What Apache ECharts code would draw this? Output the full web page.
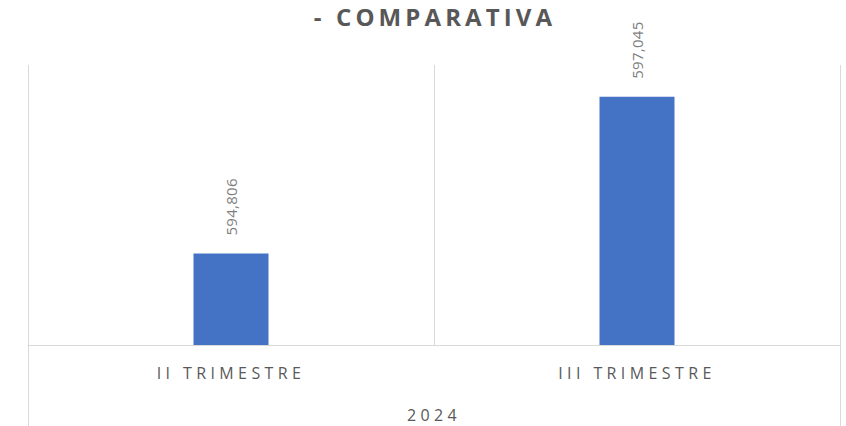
<!DOCTYPE html>
<html>
<head>
<meta charset="utf-8">
<script src="https://cdn.jsdelivr.net/npm/echarts@6/dist/echarts.min.js"></script>
<style>
html,body{margin:0;padding:0;background:#fff}
#c{width:846px;height:426px}
#c svg text{letter-spacing:4.4px}
#c svg text[fill="#7f7f7f"], #c svg text[fill="rgb(127,127,127)"]{letter-spacing:0.3px}
#c svg text[fill="#585858"], #c svg text[fill="rgb(88,88,88)"]{letter-spacing:4.1px}
</style>
</head>
<body>
<div id="c"></div>
<script>
const titleText = '- COMPARATIVA';
const categories = ['II TRIMESTRE', 'III TRIMESTRE'];
const groupLabels = ['2024'];
const values = [594806, 597045];
const yMin = 593500;
const yMax = 597500;

const chart = echarts.init(document.getElementById('c'), null, {renderer: 'svg'});
const FONT = '"Open Sans", "Liberation Sans", sans-serif';
chart.setOption({
  animation: false,
  backgroundColor: '#ffffff',
  title: {
    text: titleText,
    left: 435,
    textAlign: 'center',
    top: 2,
    padding: 0,
    textStyle: {fontFamily: FONT, fontSize: 24, lineHeight: 28, fontWeight: 'bold', color: '#585858'}
  },
  grid: {left: 28, right: 6, top: 65, bottom: 81, containLabel: false},
  xAxis: [
    {
      type: 'category',
      data: categories,
      position: 'bottom',
      boundaryGap: true,
      axisLine: {show: true, lineStyle: {color: '#d9d9d9', width: 1}},
      axisTick: {show: false},
      splitLine: {show: true, lineStyle: {color: '#d9d9d9', width: 1}},
      axisLabel: {margin: 20, fontFamily: FONT, fontSize: 16, color: '#595959'}
    },
    {
      type: 'category',
      data: groupLabels,
      position: 'bottom',
      boundaryGap: true,
      axisLine: {show: false},
      axisTick: {show: true, length: 81, lineStyle: {color: '#d9d9d9', width: 1}},
      splitLine: {show: false},
      axisLabel: {margin: 62, fontFamily: FONT, fontSize: 16, color: '#595959'}
    }
  ],
  yAxis: {
    type: 'value',
    min: yMin,
    max: yMax,
    show: false,
    splitLine: {show: false}
  },
  series: [{
    type: 'bar',
    data: values,
    xAxisIndex: 0,
    barWidth: 75,
    itemStyle: {color: '#4472c4'},
    label: {
      show: true,
      position: 'top',
      rotate: 90,
      align: 'left',
      verticalAlign: 'middle',
      distance: 18,
      fontFamily: FONT,
      fontSize: 15,
      color: '#7f7f7f',
      formatter: p => p.value.toLocaleString('en-US')
    }
  }]
});
</script>
</body>
</html>
